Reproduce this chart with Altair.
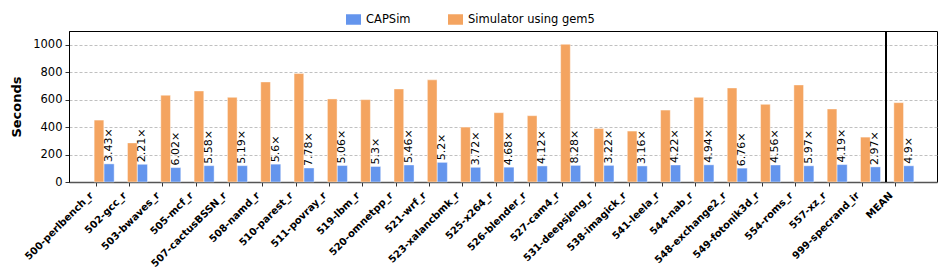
import json
import altair as alt
import pandas as pd

benchmarks = ["500-perlbench_r", "502-gcc_r", "503-bwaves_r", "505-mcf_r", "507-cactusBSSN_r",
              "508-namd_r", "510-parest_r", "511-povray_r", "519-lbm_r", "520-omnetpp_r",
              "521-wrf_r", "523-xalancbmk_r", "525-x264_r", "526-blender_r", "527-cam4_r",
              "531-deepsjeng_r", "538-imagick_r", "541-leela_r", "544-nab_r", "548-exchange2_r",
              "549-fotonik3d_r", "554-roms_r", "557-xz_r", "999-specrand_ir", "MEAN"]
gem5_seconds = [451, 285, 632, 663, 617, 729, 790, 605, 600, 678, 744, 400, 505, 483, 1003,
                390, 371, 524, 617, 685, 566, 707, 532, 327, 578]
capsim_seconds = [132, 129, 105, 119, 119, 130, 102, 120, 113, 124, 143, 107, 108, 117, 121,
                  121, 117, 124, 125, 101, 124, 118, 127, 110, 118]
speedups = [3.43, 2.21, 6.02, 5.58, 5.19, 5.6, 7.78, 5.06, 5.3, 5.46, 5.2, 3.72, 4.68, 4.12, 8.28,
            3.22, 3.16, 4.22, 4.94, 6.76, 4.56, 5.97, 4.19, 2.97, 4.9]
series = ["CAPSim", "Simulator using gem5"]
colors = ["#6495ED", "#F4A460"]
separator_pos = [23.72]
y_ticks = [0, 200, 400, 600, 800, 1000]

df = pd.DataFrame({
    "idx": list(range(len(benchmarks))),
    "name": benchmarks,
    "Simulator using gem5": gem5_seconds,
    "CAPSim": capsim_seconds,
    "speedup": speedups,
})

xscale = alt.Scale(domain=[-0.8, 25.25], nice=False, zero=False)
yscale = alt.Scale(domain=[0, 1100], nice=False)

x_axis = alt.Axis(
    values=list(range(len(benchmarks))), labels=False,
    title=None, grid=False, tickSize=4,
    tickColor="#333", domainColor="#555", domainWidth=1.5)
y_axis = alt.Axis(
    values=y_ticks, format="d", title="Seconds", titleFontWeight="bold",
    titleFontSize=13, titlePadding=9, labelFontSize=11.5, tickSize=4, labelPadding=3,
    labelOverlap=False,
    grid=True, gridDash=[3, 2], gridColor="#b0b0b0", gridWidth=0.8,
    domainColor="black", tickColor="#333", labelColor="black", titleColor="black")

base = alt.Chart(df)

bars = base.transform_fold(series, as_=["series", "seconds"]).transform_calculate(
    x0="datum.series == 'CAPSim' ? datum.idx + 0.248 : datum.idx - 0.045",
    x1="datum.series == 'CAPSim' ? datum.idx + 0.555 : datum.idx + 0.245",
).mark_bar(stroke="white", strokeWidth=0.6, strokeOpacity=0.7).encode(
    x=alt.X("x0:Q", scale=xscale, axis=x_axis),
    x2="x1:Q",
    y=alt.Y("seconds:Q", scale=yscale, stack=None, axis=y_axis),
    y2=alt.datum(0),
    color=alt.Color("series:N", scale=alt.Scale(domain=series, range=colors), legend=alt.Legend(
        title=None, orient="none", legendX=277, legendY=-19, direction="horizontal",
        symbolType="M-1,-0.7H1V0.7H-1Z", symbolSize=225, symbolStrokeWidth=0,
        labelFontSize=11.5, labelOffset=5, columnPadding=37, padding=0, labelColor="black")),
)

labels = base.transform_calculate(
    lx="datum.idx + 0.40",
    txt="datum.speedup + '×'",
).mark_text(angle=270, align="left", baseline="middle", dx=2, fontSize=11, color="black").encode(
    x=alt.X("lx:Q", scale=xscale, axis=x_axis),
    y=alt.Y("CAPSim:Q", scale=yscale, axis=y_axis),
    text="txt:N",
)

tick_labels = base.transform_calculate(
    tx="datum.idx - 0.06",
).mark_text(angle=315, align="right", baseline="alphabetic", fontSize=10, fontWeight="bold",
            color="black").encode(
    x=alt.X("tx:Q", scale=xscale, axis=x_axis),
    y=alt.value(165),
    text="name:N",
)

sep_df = pd.DataFrame({"pos": separator_pos})
separator = alt.Chart(sep_df).mark_rule(color="black", strokeWidth=2).encode(
    x=alt.X("pos:Q", scale=xscale, axis=x_axis),
    y=alt.value(0),
    y2=alt.value(151),
)

chart = alt.layer(bars, labels, tick_labels, separator).properties(
    width=868, height=151,
    autosize=alt.AutoSizeParams(type="none"),
    padding={"left": 61, "top": 23, "right": 1, "bottom": 92},
).configure(font="DejaVu Sans").configure_view(stroke="black", strokeWidth=1)

chart.save("out.html", embed_options={"renderer": "svg", "actions": False})
